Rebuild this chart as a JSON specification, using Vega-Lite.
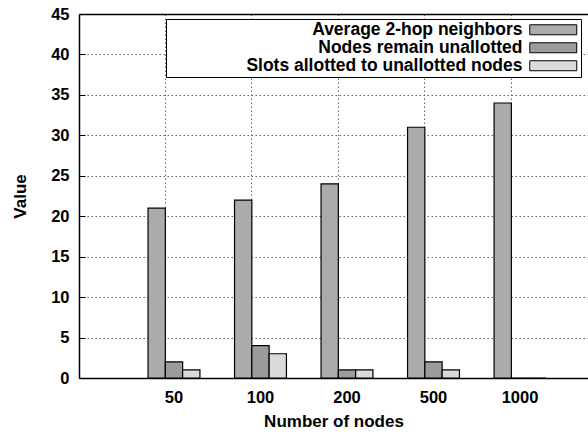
{
  "$schema": "https://vega.github.io/schema/vega-lite/v6.json",
  "width": 509,
  "height": 364,
  "autosize": {"type": "none"},
  "padding": {"left": 79, "top": 14, "right": 0, "bottom": 56},
  "background": "white",
  "config": {
    "font": "Liberation Sans",
    "view": {"stroke": null},
    "axis": {
      "labelFont": "Liberation Sans",
      "labelFontWeight": "bold",
      "labelFontSize": 16.5,
      "labelColor": "black",
      "titleFont": "Liberation Sans",
      "titleFontWeight": "bold",
      "titleFontSize": 17,
      "titleColor": "black",
      "domainColor": "black",
      "domainWidth": 1.5,
      "ticks": false,
      "grid": true,
      "gridColor": "#666666",
      "gridDash": [1.5, 2.5],
      "gridWidth": 1
    }
  },
  "data": {
    "values": [
      {"nodes": "50", "series": "Average 2-hop neighbors", "value": 21},
      {"nodes": "50", "series": "Nodes remain unallotted", "value": 2},
      {"nodes": "50", "series": "Slots allotted to unallotted nodes", "value": 1},
      {"nodes": "100", "series": "Average 2-hop neighbors", "value": 22},
      {"nodes": "100", "series": "Nodes remain unallotted", "value": 4},
      {"nodes": "100", "series": "Slots allotted to unallotted nodes", "value": 3},
      {"nodes": "200", "series": "Average 2-hop neighbors", "value": 24},
      {"nodes": "200", "series": "Nodes remain unallotted", "value": 1},
      {"nodes": "200", "series": "Slots allotted to unallotted nodes", "value": 1},
      {"nodes": "500", "series": "Average 2-hop neighbors", "value": 31},
      {"nodes": "500", "series": "Nodes remain unallotted", "value": 2},
      {"nodes": "500", "series": "Slots allotted to unallotted nodes", "value": 1},
      {"nodes": "1000", "series": "Average 2-hop neighbors", "value": 34},
      {"nodes": "1000", "series": "Nodes remain unallotted", "value": 0},
      {"nodes": "1000", "series": "Slots allotted to unallotted nodes", "value": 0}
    ]
  },
  "mark": {"type": "bar", "stroke": "black", "strokeWidth": 1.2},
  "encoding": {
    "x": {
      "field": "nodes",
      "type": "nominal",
      "sort": ["50", "100", "200", "500", "1000"],
      "scale": {"paddingInner": 0.4, "paddingOuter": 0.642, "align": 0.6215},
      "axis": {
        "title": "Number of nodes",
        "labelAngle": 0,
        "labelPadding": 11,
        "titlePadding": 8,
        "bandPosition": 0.3333
      }
    },
    "xOffset": {
      "field": "series",
      "type": "nominal",
      "sort": ["Average 2-hop neighbors", "Nodes remain unallotted", "Slots allotted to unallotted nodes"],
      "scale": {"paddingInner": 0, "paddingOuter": 0}
    },
    "y": {
      "field": "value",
      "type": "quantitative",
      "scale": {"domain": [0, 45], "nice": false},
      "axis": {
        "title": "Value",
        "values": [0, 5, 10, 15, 20, 25, 30, 35, 40, 45],
        "ticks": true,
        "tickSize": -6,
        "tickColor": "black",
        "tickWidth": 1,
        "labelPadding": 16,
        "titlePadding": 21,
        "gridDash": {"condition": {"test": "datum.value === 45", "value": []}, "value": [1.5, 2.5]},
        "gridColor": {"condition": {"test": "datum.value === 45", "value": "black"}, "value": "#666666"},
        "gridWidth": {"condition": {"test": "datum.value === 45", "value": 1.5}, "value": 1}
      }
    },
    "fill": {
      "field": "series",
      "type": "nominal",
      "sort": ["Average 2-hop neighbors", "Nodes remain unallotted", "Slots allotted to unallotted nodes"],
      "scale": {"range": ["#ababab", "#9c9c9c", "#dadada"]},
      "legend": {
        "orient": "none",
        "legendX": 87,
        "legendY": 5,
        "title": null,
        "labelAlign": "right",
        "labelOffset": -39.5,
        "symbolOffset": 376.5,
        "labelLimit": 500,
        "labelFont": "Liberation Sans",
        "labelFontWeight": "bold",
        "labelFontSize": 17.5,
        "labelColor": "black",
        "symbolType": "M-4.7,-1H4.7V1H-4.7Z",
        "symbolSize": 100,
        "symbolStrokeColor": "black",
        "symbolStrokeWidth": 1,
        "symbolOpacity": 1,
        "strokeColor": "black",
        "fillColor": "white",
        "padding": 2,
        "rowPadding": -4.5
      }
    }
  }
}
